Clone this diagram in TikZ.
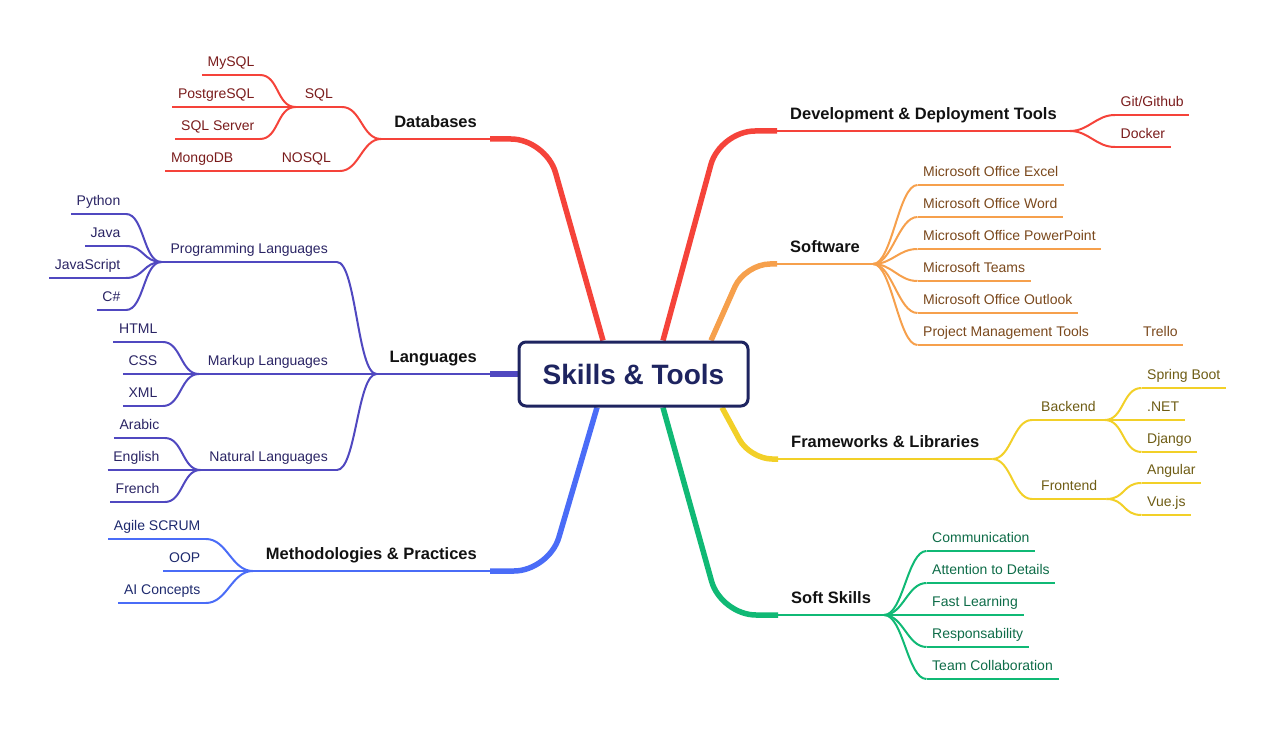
\documentclass[tikz,border=0pt]{standalone}
\usepackage{fontspec}
\setmainfont{Liberation Sans}
\usetikzlibrary{backgrounds}
\definecolor{rootnavy}{RGB}{30,36,96}
\definecolor{dbred}{RGB}{245,67,58}
\definecolor{dbtxt}{RGB}{122,28,28}
\definecolor{swor}{RGB}{246,160,76}
\definecolor{swtxt}{RGB}{122,72,28}
\definecolor{fwyl}{RGB}{242,208,40}
\definecolor{fwtxt}{RGB}{110,92,20}
\definecolor{ssgr}{RGB}{16,185,117}
\definecolor{sstxt}{RGB}{14,108,72}
\definecolor{lgpu}{RGB}{80,72,192}
\definecolor{lgtxt}{RGB}{42,36,100}
\definecolor{mtbl}{RGB}{74,108,247}
\definecolor{mttxt}{RGB}{30,42,110}
\tikzset{
every node/.style={font=\fontsize{14}{16}\selectfont, inner xsep=5.5pt, inner ysep=0pt, text depth=8.6pt}, % leaf labels
topic/.style={font=\fontsize{16.5}{19}\selectfont\bfseries, text=black!93, inner xsep=13pt, text depth=11.5pt}, % first level labels
midtopic/.style={inner xsep=9pt}, % second level labels
lt/.style={anchor=south east}, % left half of the map
rt/.style={anchor=south west}, % right half of the map
trunk/.style={line width=5.5pt, rounded corners=#1}, % thick branches out of the root
twig/.style={line width=2pt}, % underlines and thin links
lnk/.style={to path={.. controls +(#1,0) and +(-#1,0) .. (\tikztotarget)}}, % s-shaped link
}

\begin{document}
\begin{tikzpicture}[x=1pt, y=-1pt]
      \useasboundingbox (0,0) rectangle (1274,743);
      \node[draw=rootnavy, line width=3pt, rounded corners=7pt, fill=white, minimum width=229pt, minimum height=64pt, inner sep=0pt, text depth=0pt, font=\fontsize{28}{30}\selectfont\bfseries, text=rootnavy] (root) at (633.5,374) {Skills \& Tools};

      % right half
      \node[topic, rt] (dev) at (777,131) {Development \& Deployment Tools};
      \node[rt, text=dbtxt] (git) at (1115,115) {Git/Github};
      \node[rt, text=dbtxt] (docker) at (1115,147) {Docker};

      \node[topic, rt] (soft) at (777,264) {Software};
      \node[rt, text=swtxt] (excel) at (917.5,185) {Microsoft Office Excel};
      \node[rt, text=swtxt] (word) at (917.5,217) {Microsoft Office Word};
      \node[rt, text=swtxt] (ppt) at (917.5,249) {Microsoft Office PowerPoint};
      \node[rt, text=swtxt] (teams) at (917.5,281) {Microsoft Teams};
      \node[rt, text=swtxt] (outlook) at (917.5,313) {Microsoft Office Outlook};
      \node[rt, text=swtxt] (pmt) at (917.5,345) {Project Management Tools};
      \node[rt, text=swtxt] (trello) at (1137.5,345) {Trello};

      \node[topic, rt] (fw) at (778,459) {Frameworks \& Libraries};
      \node[midtopic, rt, text=fwtxt] (backend) at (1032,420) {Backend};
      \node[midtopic, rt, text=fwtxt] (frontend) at (1032,499) {Frontend};
      \node[rt, text=fwtxt] (spring) at (1141.5,388) {Spring Boot};
      \node[rt, text=fwtxt] (dotnet) at (1141.5,420) {.NET};
      \node[rt, text=fwtxt] (django) at (1141.5,452) {Django};
      \node[rt, text=fwtxt] (angular) at (1141.5,483) {Angular};
      \node[rt, text=fwtxt] (vue) at (1141.5,515) {Vue.js};

      \node[topic, rt] (ss) at (778,615) {Soft Skills};
      \node[rt, text=sstxt] (comm) at (926.5,551) {Communication};
      \node[rt, text=sstxt] (attn) at (926.5,583) {Attention to Details};
      \node[rt, text=sstxt] (fast) at (926.5,615) {Fast Learning};
      \node[rt, text=sstxt] (resp) at (926.5,647) {Responsability};
      \node[rt, text=sstxt] (team) at (926.5,679) {Team Collaboration};

      % left half
      \node[topic, lt] (db) at (490,139) {Databases};
      \node[midtopic, lt, text=dbtxt] (sql) at (342,107) {SQL};
      \node[midtopic, lt, text=dbtxt] (nosql) at (340,171) {NOSQL};
      \node[lt, text=dbtxt] (mysql) at (260,75) {MySQL};
      \node[lt, text=dbtxt] (pgsql) at (260,107) {PostgreSQL};
      \node[lt, text=dbtxt] (sqlsrv) at (260,139) {SQL Server};
      \node[lt, text=dbtxt] (mongo) at (239,171) {MongoDB};

      \node[topic, lt] (lang) at (490,374) {Languages};
      \node[midtopic, lt, text=lgtxt] (prog) at (337,262) {Programming Languages};
      \node[midtopic, lt, text=lgtxt] (markup) at (337,374) {Markup Languages};
      \node[midtopic, lt, text=lgtxt] (natural) at (337,470) {Natural Languages};
      \node[lt, text=lgtxt] (python) at (126,214) {Python};
      \node[lt, text=lgtxt] (java) at (126,246) {Java};
      \node[lt, text=lgtxt] (js) at (126,278) {JavaScript};
      \node[lt, text=lgtxt] (csharp) at (126,310) {C\#};
      \node[lt, text=lgtxt] (html) at (163,342) {HTML};
      \node[lt, text=lgtxt] (css) at (163,374) {CSS};
      \node[lt, text=lgtxt] (xml) at (163,406) {XML};
      \node[lt, text=lgtxt] (arabic) at (165,438) {Arabic};
      \node[lt, text=lgtxt] (english) at (165,470) {English};
      \node[lt, text=lgtxt] (french) at (165,502) {French};

      \node[topic, lt] (meth) at (490,571) {Methodologies \& Practices};
      \node[lt, text=mttxt] (agile) at (206,539) {Agile SCRUM};
      \node[lt, text=mttxt] (oop) at (206,571) {OOP};
      \node[lt, text=mttxt] (ai) at (206,603) {AI Concepts};

      % thick branches behind the root box
      \begin{pgfonlayer}{background}
      \draw[trunk=35pt, dbred] ([xshift=-30.5pt]root.north) -- ([xshift=56pt]db.south east) -- (db.south east);
      \draw[trunk=35pt, dbred] ([xshift=29.5pt]root.north) -- ([xshift=-57pt]dev.south west) -- (dev.south west);
      \draw[trunk=25pt, swor] ([xshift=77.5pt]root.north) -- ([xshift=-32pt]soft.south west) -- (soft.south west);
      \draw[trunk=22pt, fwyl] ([xshift=88.5pt]root.south) -- ([xshift=-28pt]fw.south west) -- (fw.south west);
      \draw[trunk=35pt, ssgr] ([xshift=29.5pt]root.south) -- ([xshift=-57pt]ss.south west) -- (ss.south west);
      \draw[trunk=35pt, mtbl] ([xshift=-36.5pt]root.south) -- ([xshift=59pt]meth.south east) -- (meth.south east);
      \draw[trunk=1pt, lgpu] (root.west) -- (lang.south east);
      \end{pgfonlayer}

      \draw[twig, dbred] (dev.south west) edge (dev.south east)
      (git.south west) edge (git.south east)
      (docker.south west) edge (docker.south east)
      (dev.south east) edge[lnk=19] (git.south west)
      (dev.south east) edge[lnk=19] (docker.south west);

      \draw[twig, swor] (soft.south west) edge (soft.south east)
      (excel.south west) edge (excel.south east)
      (word.south west) edge (word.south east)
      (ppt.south west) edge (ppt.south east)
      (teams.south west) edge (teams.south east)
      (outlook.south west) edge (outlook.south east)
      (pmt.south west) edge (pmt.south east)
      (trello.south west) edge (trello.south east)
      (soft.south east) edge[lnk=19] (excel.south west)
      (soft.south east) edge[lnk=19] (word.south west)
      (soft.south east) edge[lnk=19] (ppt.south west)
      (soft.south east) edge[lnk=19] (teams.south west)
      (soft.south east) edge[lnk=19] (outlook.south west)
      (soft.south east) edge[lnk=19] (pmt.south west)
      (pmt.south east) edge (trello.south west);

      \draw[twig, fwyl] (fw.south west) edge (fw.south east)
      (backend.south west) edge (backend.south east)
      (frontend.south west) edge (frontend.south east)
      (spring.south west) edge (spring.south east)
      (dotnet.south west) edge (dotnet.south east)
      (django.south west) edge (django.south east)
      (angular.south west) edge (angular.south east)
      (vue.south west) edge (vue.south east)
      (fw.south east) edge[lnk=19] (backend.south west)
      (fw.south east) edge[lnk=19] (frontend.south west)
      (backend.south east) edge[lnk=19] (spring.south west)
      (backend.south east) edge[lnk=19] (dotnet.south west)
      (backend.south east) edge[lnk=19] (django.south west)
      (frontend.south east) edge[lnk=19] (angular.south west)
      (frontend.south east) edge[lnk=19] (vue.south west);

      \draw[twig, ssgr] (ss.south west) edge (ss.south east)
      (comm.south west) edge (comm.south east)
      (attn.south west) edge (attn.south east)
      (fast.south west) edge (fast.south east)
      (resp.south west) edge (resp.south east)
      (team.south west) edge (team.south east)
      (ss.south east) edge[lnk=19] (comm.south west)
      (ss.south east) edge[lnk=19] (attn.south west)
      (ss.south east) edge[lnk=19] (fast.south west)
      (ss.south east) edge[lnk=19] (resp.south west)
      (ss.south east) edge[lnk=19] (team.south west);

      \draw[twig, dbred] (db.south west) edge (db.south east)
      (sql.south west) edge (sql.south east)
      (nosql.south west) edge (nosql.south east)
      (mysql.south west) edge (mysql.south east)
      (pgsql.south west) edge (pgsql.south east)
      (sqlsrv.south west) edge (sqlsrv.south east)
      (mongo.south west) edge (mongo.south east)
      (db.south west) edge[lnk=-19] (sql.south east)
      (db.south west) edge[lnk=-19] (nosql.south east)
      (sql.south west) edge[lnk=-19] (mysql.south east)
      (sql.south west) edge[lnk=-19] (pgsql.south east)
      (sql.south west) edge[lnk=-19] (sqlsrv.south east)
      (nosql.south west) edge (mongo.south east);

      \draw[twig, lgpu] (lang.south west) edge (lang.south east)
      (prog.south west) edge (prog.south east)
      (markup.south west) edge (markup.south east)
      (natural.south west) edge (natural.south east)
      (python.south west) edge (python.south east)
      (java.south west) edge (java.south east)
      (js.south west) edge (js.south east)
      (csharp.south west) edge (csharp.south east)
      (html.south west) edge (html.south east)
      (css.south west) edge (css.south east)
      (xml.south west) edge (xml.south east)
      (arabic.south west) edge (arabic.south east)
      (english.south west) edge (english.south east)
      (french.south west) edge (french.south east)
      (lang.south west) edge[lnk=-19] (prog.south east)
      (lang.south west) edge[lnk=-19] (markup.south east)
      (lang.south west) edge[lnk=-19] (natural.south east)
      (prog.south west) edge[lnk=-18] (python.south east)
      (prog.south west) edge[lnk=-18] (java.south east)
      (prog.south west) edge[lnk=-18] (js.south east)
      (prog.south west) edge[lnk=-18] (csharp.south east)
      (markup.south west) edge[lnk=-18] (html.south east)
      (markup.south west) edge[lnk=-18] (css.south east)
      (markup.south west) edge[lnk=-18] (xml.south east)
      (natural.south west) edge[lnk=-18] (arabic.south east)
      (natural.south west) edge[lnk=-18] (english.south east)
      (natural.south west) edge[lnk=-18] (french.south east);

      \draw[twig, mtbl] (meth.south west) edge (meth.south east)
      (agile.south west) edge (agile.south east)
      (oop.south west) edge (oop.south east)
      (ai.south west) edge (ai.south east)
      (meth.south west) edge[lnk=-21] (agile.south east)
      (meth.south west) edge[lnk=-21] (oop.south east)
      (meth.south west) edge[lnk=-21] (ai.south east);
    \end{tikzpicture}
\end{document}
